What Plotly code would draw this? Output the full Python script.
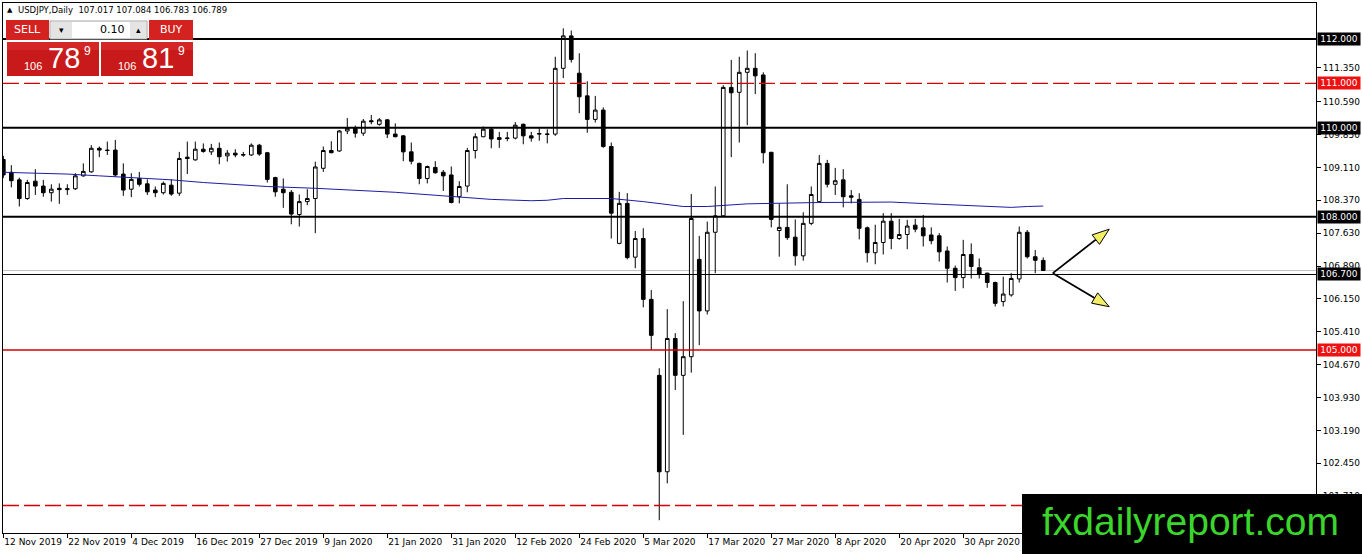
import math
import pandas as pd
import plotly.graph_objects as go

# daily bars as the broker shows them (no bar on 25 Dec and 1 Jan)
days = pd.bdate_range("2019-11-12", "2020-05-14")
days = days[~days.isin(pd.to_datetime(["2019-12-25", "2020-01-01"]))]
dates = [d.strftime("%Y-%m-%d") for d in days]

open_ = [109.29, 109.00, 108.83, 108.41, 108.80, 108.69, 108.54, 108.64, 108.61, 108.63,
         108.92, 109.01, 109.54, 109.50, 109.50, 108.96, 108.62, 108.86, 108.74, 108.60,
         108.54, 108.71, 108.53, 109.34, 109.28, 109.52, 109.46, 109.54, 109.37, 109.43,
         109.40, 109.39, 109.61, 109.44, 108.88, 108.62, 108.55, 108.05, 108.34, 108.41,
         109.09, 109.49, 109.48, 109.93, 109.99, 109.88, 110.16, 110.08, 110.18, 109.86,
         109.82, 109.46, 109.20, 108.86, 109.11, 109.00, 108.94, 108.45, 108.69, 109.49,
         109.80, 109.97, 109.78, 109.76, 109.77, 110.08, 109.82, 109.86, 109.85, 109.86,
         111.34, 112.07, 111.23, 110.72, 110.19, 110.40, 109.58, 107.40, 108.30, 107.09,
         107.51, 106.14, 104.43, 102.26, 105.26, 104.43, 104.85, 107.04, 105.88, 107.65,
         108.02, 110.91, 110.80, 111.25, 111.34, 111.19, 109.45, 107.69, 107.76, 107.54,
         107.12, 107.85, 108.34, 109.20, 108.73, 108.83, 108.47, 108.39, 107.75, 107.19,
         107.42, 107.90, 107.51, 107.60, 107.81, 107.75, 107.59, 107.57, 107.23, 106.84,
         106.63, 107.15, 106.85, 106.73, 106.52, 106.09, 106.24, 106.60, 107.65, 107.10,
         107.017]
high_ = [109.37, 109.16, 108.88, 108.83, 109.07, 108.83, 108.73, 108.75, 108.73, 108.98,
         109.20, 109.61, 109.58, 109.69, 109.73, 109.20, 108.98, 109.01, 108.84, 108.68,
         108.79, 108.84, 109.46, 109.69, 109.69, 109.65, 109.64, 109.67, 109.50, 109.52,
         109.46, 109.65, 109.64, 109.46, 108.90, 108.86, 108.60, 108.50, 108.62, 109.24,
         109.58, 109.70, 109.95, 110.22, 110.05, 110.20, 110.29, 110.22, 110.20, 110.10,
         109.84, 109.67, 109.22, 109.15, 109.25, 109.05, 109.13, 108.80, 109.55, 109.88,
         110.03, 110.00, 109.91, 109.91, 110.13, 110.10, 109.91, 109.99, 109.97, 111.60,
         112.24, 112.19, 111.68, 111.05, 110.72, 110.46, 109.67, 108.56, 108.53, 107.68,
         107.74, 106.35, 104.59, 105.92, 105.38, 106.10, 108.51, 107.57, 107.89, 108.68,
         110.96, 111.53, 111.60, 111.74, 111.68, 111.25, 109.46, 108.30, 108.73, 107.94,
         108.10, 108.68, 109.39, 109.28, 109.10, 109.07, 108.60, 108.53, 107.78, 107.82,
         108.08, 108.08, 107.95, 107.93, 107.95, 108.04, 107.76, 107.63, 107.33, 106.90,
         107.48, 107.40, 107.06, 106.74, 106.54, 106.65, 106.73, 107.78, 107.70, 107.25,
         107.084]
low_ = [108.87, 108.66, 108.23, 108.38, 108.49, 108.45, 108.34, 108.29, 108.49, 108.60,
        108.90, 108.99, 109.34, 109.39, 108.90, 108.47, 108.44, 108.68, 108.49, 108.44,
        108.50, 108.47, 108.47, 108.96, 109.26, 109.44, 109.39, 109.18, 109.24, 109.34,
        109.35, 109.37, 109.37, 108.77, 108.45, 108.20, 107.83, 107.78, 108.26, 107.63,
        109.01, 109.43, 109.46, 109.86, 109.78, 109.82, 110.08, 110.05, 109.77, 109.79,
        109.25, 109.18, 108.73, 108.75, 108.97, 108.58, 108.30, 108.30, 108.55, 109.31,
        109.79, 109.54, 109.55, 109.70, 109.74, 109.63, 109.69, 109.71, 109.65, 109.82,
        111.12, 111.47, 110.33, 109.89, 110.12, 109.55, 107.51, 107.38, 107.04, 106.84,
        105.96, 105.00, 101.17, 102.00, 104.10, 103.09, 104.49, 105.11, 105.80, 106.73,
        108.00, 109.34, 109.67, 110.06, 110.76, 109.20, 107.76, 107.10, 107.48, 106.90,
        107.01, 107.81, 108.32, 108.66, 108.49, 108.21, 108.30, 107.49, 106.97, 106.93,
        107.15, 107.27, 107.48, 107.27, 107.65, 107.33, 107.38, 106.99, 106.52, 106.33,
        106.39, 106.61, 106.61, 106.40, 105.98, 105.98, 106.20, 106.52, 107.06, 106.73,
        106.783]
close_ = [108.94, 108.81, 108.41, 108.77, 108.69, 108.54, 108.62, 108.61, 108.63, 108.92,
          109.02, 109.54, 109.50, 109.49, 108.94, 108.60, 108.84, 108.73, 108.56, 108.54,
          108.75, 108.51, 109.31, 109.31, 109.52, 109.47, 109.54, 109.35, 109.43, 109.39,
          109.39, 109.61, 109.41, 108.84, 108.56, 108.54, 108.06, 108.34, 108.41, 109.12,
          109.49, 109.44, 109.93, 109.99, 109.88, 110.15, 110.14, 110.18, 109.86, 109.80,
          109.46, 109.25, 108.86, 109.13, 108.99, 108.92, 108.32, 108.68, 109.49, 109.80,
          109.97, 109.75, 109.74, 109.77, 110.06, 109.82, 109.77, 109.87, 109.86, 111.34,
          112.07, 111.54, 110.70, 110.19, 110.40, 109.58, 108.08, 108.30, 107.08, 107.51,
          106.14, 105.33, 102.26, 105.26, 104.43, 104.85, 107.96, 105.88, 107.65, 108.02,
          110.91, 110.79, 111.25, 111.34, 111.17, 109.44, 107.94, 107.76, 107.53, 107.12,
          107.85, 108.50, 109.20, 108.73, 108.81, 108.45, 108.44, 107.74, 107.19, 107.42,
          107.90, 107.51, 107.60, 107.79, 107.72, 107.57, 107.46, 107.21, 106.84, 106.63,
          107.15, 106.88, 106.71, 106.52, 106.05, 106.26, 106.61, 107.65, 107.10, 107.02,
          106.789]

# moving average read at a few bars
ma_idx = [0, 8, 12, 16, 21, 25, 33, 39, 45, 49, 55, 61, 66, 68, 70, 76, 80, 85, 88, 90,
          93, 102, 106, 111, 117, 123, 126, 128, 130]
ma_val = [109.00, 108.96, 108.92, 108.88, 108.83, 108.77, 108.68, 108.64, 108.58, 108.55,
          108.47, 108.39, 108.36, 108.37, 108.41, 108.41, 108.34, 108.23, 108.23, 108.25,
          108.29, 108.32, 108.33, 108.33, 108.28, 108.24, 108.21, 108.23, 108.24]

# horizontal levels
level_vals = [112.0, 111.0, 110.0, 108.0, 106.7, 105.0, 101.5]
level_kind = ["major", "red_dash", "major", "major", "minor", "red", "red_dash"]
label_vals = [112.0, 111.0, 110.0, 108.0, 106.7, 105.0]
label_bg = ["black", "#ee1111", "black", "black", "black", "#ee1111"]

y_ticks = [111.35, 110.59, 109.85, 109.11, 108.37, 107.63, 106.89, 106.15, 105.41,
           104.67, 103.93, 103.19, 102.45, 101.71]
x_tick_dates = ["2019-11-12", "2019-11-22", "2019-12-04", "2019-12-16", "2019-12-27",
                "2020-01-09", "2020-01-21", "2020-01-31", "2020-02-12", "2020-02-24",
                "2020-03-05", "2020-03-17", "2020-03-27", "2020-04-08", "2020-04-20",
                "2020-04-30"]
x_tick_text = [pd.Timestamp(d).strftime("%-d %b %Y") for d in x_tick_dates]

spread = 0.030
arrow_start = (131.2, 106.73)
arrow_tips = [(138.25, 107.72), (138.25, 105.975)]

# ---- geometry
W, H = 1362, 554
ML, MR, MT, MB = 3, 46, 3, 21
PW, PH = W - ML - MR, H - MT - MB
X_RANGE = [-0.04, 164.1]
Y_RANGE = [100.882, 112.81]
FONT = "DejaVu Sans"


def px(x):
    return (x - ML) / PW


def py(y):
    return (H - MB - y) / PH


fig = go.Figure()
fig.add_trace(go.Candlestick(
    x=dates, open=open_, high=high_, low=low_, close=close_,
    increasing=dict(line=dict(color="black", width=1), fillcolor="white"),
    decreasing=dict(line=dict(color="black", width=1), fillcolor="black"),
    whiskerwidth=0, showlegend=False))
fig.add_trace(go.Scatter(
    x=[dates[i] for i in ma_idx], y=ma_val, mode="lines",
    line=dict(color="#1c1ca6", width=1), showlegend=False, hoverinfo="skip"))

shapes = []
styles = {
    "major": dict(color="black", width=2),
    "minor": dict(color="black", width=1),
    "red": dict(color="#d80000", width=1.4),
    "red_dash": dict(color="#d80000", width=1.4, dash="16px,5px"),
}
# bid line
shapes.append(dict(type="line", xref="paper", x0=0, x1=1, yref="y", y0=close_[-1], y1=close_[-1],
                   line=dict(color="#c0c0c0", width=1), layer="below"))
for v, k in zip(level_vals, level_kind):
    shapes.append(dict(type="line", xref="paper", x0=0, x1=1, yref="y", y0=v, y1=v,
                       line=styles[k], layer="above"))

# arrows with yellow heads
sx = PW / (X_RANGE[1] - X_RANGE[0])
sy = PH / (Y_RANGE[1] - Y_RANGE[0])
for tx, ty in arrow_tips:
    ax0, ay0 = arrow_start
    dxp, dyp = (tx - ax0) * sx, (ty - ay0) * sy
    ln = math.hypot(dxp, dyp)
    ux, uy = dxp / ln, dyp / ln
    bx, by = tx - 17 * ux / sx, ty - 17 * uy / sy
    nx, ny = -uy, ux
    c1 = (bx + 6 * nx / sx, by + 6 * ny / sy)
    c2 = (bx - 6 * nx / sx, by - 6 * ny / sy)
    shapes.append(dict(type="line", xref="x", yref="y", x0=ax0, y0=ay0, x1=bx, y1=by,
                       line=dict(color="black", width=1.8)))
    shapes.append(dict(type="path", xref="x", yref="y",
                       path=f"M {tx},{ty} L {c1[0]},{c1[1]} L {c2[0]},{c2[1]} Z",
                       fillcolor="#f4ee66", line=dict(color="black", width=1)))


def rect(x0, y0, x1, y1, fill, line=None):
    shapes.append(dict(type="rect", xref="paper", yref="paper",
                       x0=px(x0), x1=px(x1), y0=py(y1), y1=py(y0),
                       fillcolor=fill, line=line or dict(width=0), layer="above"))


# one-click trading panel
rect(6, 20, 49, 40, "#d42220")
rect(149, 20, 193, 40, "#d42220")
rect(50, 21, 147, 39, "#f2f2f2", dict(color="#a8a8a8", width=1))
rect(51, 22, 72, 38, "#e4e4e4")
rect(72, 22, 130, 38, "white")
rect(130, 22, 146, 38, "#e4e4e4")
rect(7, 42, 99, 76, "#c81a1a")
rect(101, 42, 193, 76, "#c81a1a")
rect(7, 42, 99, 50, "#d42626")
rect(101, 42, 193, 50, "#d42626")
# watermark box
rect(1022, 494, 1362, 554, "black")

ann = []


def text(x, y, s, size, color="white", anchor="center", family=FONT):
    ann.append(dict(xref="paper", yref="paper", x=px(x), y=py(y), text=s, showarrow=False,
                    xanchor=anchor, yanchor="middle",
                    font=dict(family=family, size=size, color=color)))


text(5, 10, "\u25b2", 7, "black", "left")
text(16, 10, f"USDJPY,Daily  {open_[-1]:.3f} {high_[-1]:.3f} {low_[-1]:.3f} {close_[-1]:.3f}",
     8.5, "black", "left")
text(27, 30, "SELL", 11)
text(171, 30, "BUY", 11)
text(127, 30, "0.10", 11, "black", "right")
text(61, 30, "\u25be", 9, "black")
text(138, 30, "\u25b4", 9, "black")
for price, cx in [(close_[-1], 7), (close_[-1] + spread, 101)]:
    s = f"{price:.3f}"
    big, pip, frac = s[:3], s[4:6], s[6]
    text(cx + 26, 66, big, 11, family="Liberation Sans")
    text(cx + 57, 58, pip, 29, family="Liberation Sans")
    text(cx + 80, 51, frac, 12, family="Liberation Sans")
text(1190, 521, "fxdailyreport.com", 39, "#3ad62c", family="Liberation Sans")

for v, bg in zip(label_vals, label_bg):
    ann.append(dict(xref="paper", yref="y", x=1, y=v, xanchor="left", yanchor="middle",
                    xshift=1, text=f"{v:.3f}", showarrow=False, bgcolor=bg, borderpad=1,
                    width=40, font=dict(family=FONT, size=9, color="white")))

fig.update_layout(
    width=W, height=H, margin=dict(l=ML, r=MR, t=MT, b=MB, autoexpand=False),
    paper_bgcolor="white", plot_bgcolor="white", showlegend=False,
    boxgap=0.35, shapes=shapes, annotations=ann,
    xaxis=dict(type="category", range=X_RANGE, rangeslider=dict(visible=False),
               automargin=False, tickangle=0,
               showgrid=False, showline=True, linecolor="black", linewidth=1, mirror=True,
               ticks="outside", ticklen=4, tickcolor="black",
               tickvals=x_tick_dates, ticktext=x_tick_text, ticklabelposition="outside right",
               tickfont=dict(family=FONT, size=9, color="black")),
    yaxis=dict(side="right", range=Y_RANGE, showgrid=False, zeroline=False, automargin=False,
               showline=True, linecolor="black", linewidth=1, mirror=True,
               ticks="outside", ticklen=4, tickcolor="black",
               tickvals=y_ticks, ticktext=[f"{v:.3f}" for v in y_ticks],
               tickfont=dict(family=FONT, size=9, color="black")),
)

fig.write_html("out.html", config={"displayModeBar": False},
               post_script="document.body.style.margin='0';")
